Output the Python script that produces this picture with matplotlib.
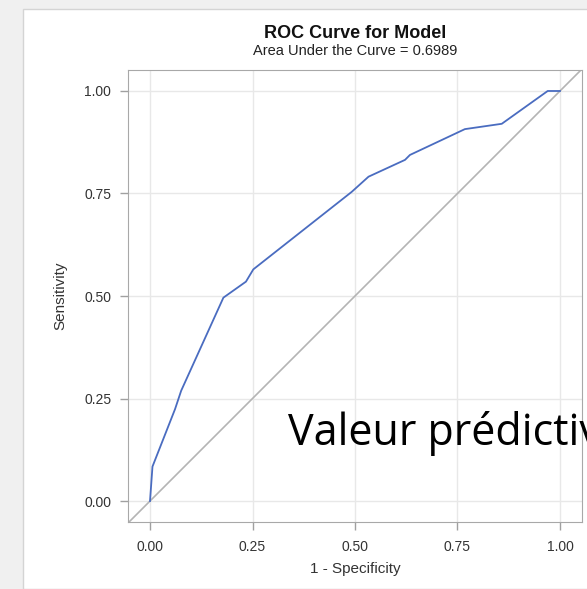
import matplotlib.pyplot as plt
from matplotlib.patches import Rectangle

# ROC curve points
fpr = [0.0, 0.006, 0.061, 0.076, 0.179, 0.234, 0.252, 0.492, 0.533, 0.622,
       0.634, 0.768, 0.858, 0.970, 1.0]
tpr = [0.0, 0.084, 0.224, 0.269, 0.496, 0.535, 0.565, 0.754, 0.791, 0.832,
       0.844, 0.907, 0.920, 1.0, 1.0]
ticks = [0.0, 0.25, 0.5, 0.75, 1.0]
tick_labels = ['0.00', '0.25', '0.50', '0.75', '1.00']
auc = 0.6989

plt.rcParams['font.family'] = ['Liberation Sans', 'DejaVu Sans']

fig = plt.figure(figsize=(5.87, 5.89), dpi=100)
fig.patch.set_facecolor('#f0f0f0')
# white panel of the report
fig.patches.append(Rectangle((23 / 587, 0), 1, 1 - 9 / 589, transform=fig.transFigure,
                             facecolor='white', edgecolor='#d4d4d4', linewidth=1, zorder=-10))

ax = fig.add_axes([128 / 587, 1 - 522 / 589, 454 / 587, 452 / 589])
ax.set_zorder(1)
ax.set_xlim(-0.0537, 1.0537)
ax.set_ylim(-0.0512, 1.0512)
ax.plot([-0.0537, 1.0537], [-0.0537, 1.0537], color='#b4b4b4', lw=1.2, zorder=2)
ax.plot(fpr, tpr, color='#4a6cc0', lw=1.3, zorder=3)

ax.set_xticks(ticks)
ax.set_xticklabels(tick_labels)
ax.set_yticks(ticks)
ax.set_yticklabels(tick_labels)
ax.grid(True, color='#e8e8e8', lw=1)
ax.set_axisbelow(True)
for s in ax.spines.values():
    s.set_color('#a8a8a8')
ax.tick_params(colors='#a0a0a0', labelcolor='#333333', labelsize=10, length=6, width=1)
ax.tick_params(axis='x', pad=7)
ax.tick_params(axis='y', pad=6)
ax.set_xlabel('1 - Specificity', fontsize=11, color='#333333', labelpad=6)
ax.set_ylabel('Sensitivity', fontsize=11, color='#333333', labelpad=12)

fig.text(355 / 587, 1 - 33 / 589, 'ROC Curve for Model', ha='center', va='center',
         fontsize=13, fontweight='bold', color='#111111')
fig.text(355 / 587, 1 - 51 / 589, 'Area Under the Curve = %.4f' % auc, ha='center',
         va='center', fontsize=10.5, color='#222222')

t = fig.text(288 / 587, 1 - 445 / 589, 'Valeur prédictive', fontsize=31,
             family=['Open Sans', 'DejaVu Sans'], color='black', ha='left', va='baseline')
t.set_zorder(5)

fig.savefig('out.png', dpi=100, facecolor=fig.get_facecolor())
